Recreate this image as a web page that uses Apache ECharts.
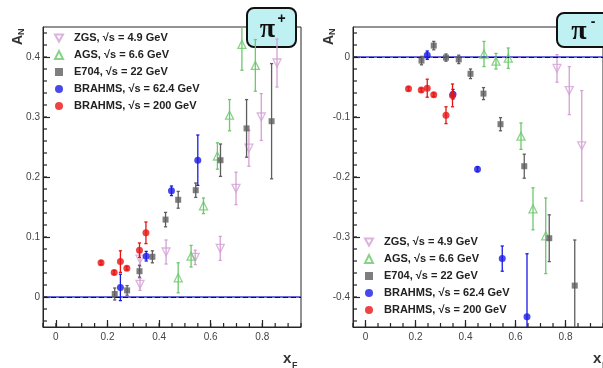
<!DOCTYPE html>
<html>
<head>
<meta charset="utf-8">
<script src="https://cdn.jsdelivr.net/npm/echarts@6/dist/echarts.min.js"></script>
<style>
html, body { margin: 0; padding: 0; background: #fff; }
#chart { width: 603px; height: 368px; }
</style>
</head>
<body>
<div id="chart"></div>
<script>
// Transverse single-spin asymmetry A_N vs x_F for pi+ (left) and pi- (right)

const legendLabels = [
  'ZGS, √s = 4.9 GeV',
  'AGS, √s = 6.6 GeV',
  'E704, √s = 22 GeV',
  'BRAHMS, √s = 62.4 GeV',
  'BRAHMS, √s = 200 GeV'
];

// ---- pi+ ----
const zgsPlusX  = [0.326, 0.326, 0.427, 0.540, 0.637, 0.698, 0.748, 0.796, 0.857];
const zgsPlusY  = [0.021, 0.063, 0.075, 0.066, 0.081, 0.181, 0.248, 0.300, 0.390];
const zgsPlusE  = [0.010, 0.012, 0.020, 0.012, 0.020, 0.027, 0.030, 0.039, 0.040];

const agsPlusX  = [0.474, 0.524, 0.572, 0.626, 0.673, 0.721, 0.773];
const agsPlusY  = [0.032, 0.068, 0.152, 0.235, 0.303, 0.421, 0.386];
const agsPlusE  = [0.025, 0.018, 0.013, 0.022, 0.026, 0.043, 0.043];

const e704PlusX = [0.228, 0.276, 0.324, 0.374, 0.425, 0.474, 0.542, 0.638, 0.739, 0.836];
const e704PlusY = [0.005, 0.011, 0.043, 0.067, 0.129, 0.162, 0.178, 0.228, 0.281, 0.293];
const e704PlusE = [0.010, 0.008, 0.010, 0.010, 0.012, 0.014, 0.012, 0.027, 0.048, 0.096];

const b62PlusX  = [0.250, 0.350, 0.448, 0.550];
const b62PlusY  = [0.016, 0.068, 0.177, 0.228];
const b62PlusE  = [0.022, 0.008, 0.008, 0.042];

const b200PlusX = [0.175, 0.226, 0.250, 0.275, 0.324, 0.349];
const b200PlusY = [0.057, 0.041, 0.059, 0.048, 0.078, 0.107];
const b200PlusE = [0.003, 0.003, 0.018, 0.003, 0.012, 0.018];

// ---- pi- ----
const zgsMinusX  = [0.766, 0.815, 0.865];
const zgsMinusY  = [-0.019, -0.056, -0.148];
const zgsMinusE  = [0.023, 0.040, 0.092];

const agsMinusX  = [0.474, 0.522, 0.571, 0.622, 0.670, 0.721];
const agsMinusY  = [0.005, -0.007, -0.002, -0.132, -0.253, -0.298];
const agsMinusE  = [0.021, 0.013, 0.017, 0.022, 0.035, 0.063];

const e704MinusX = [0.224, 0.273, 0.322, 0.373, 0.420, 0.472, 0.540, 0.635, 0.735, 0.837];
const e704MinusY = [-0.006, 0.019, -0.001, -0.004, -0.028, -0.061, -0.112, -0.182, -0.302, -0.381];
const e704MinusE = [0.007, 0.007, 0.006, 0.007, 0.008, 0.010, 0.011, 0.020, 0.039, 0.076];

const b62MinusX  = [0.247, 0.350, 0.448, 0.547, 0.646];
const b62MinusY  = [0.003, -0.062, -0.187, -0.336, -0.433];
const b62MinusE  = [0.007, 0.008, 0.004, 0.021, 0.105];

const b200MinusX = [0.172, 0.223, 0.247, 0.273, 0.322, 0.348];
const b200MinusY = [-0.053, -0.055, -0.052, -0.063, -0.097, -0.064];
const b200MinusE = [0.003, 0.003, 0.015, 0.003, 0.014, 0.019];

// axis ranges and ticks
const xRange      = [-0.05, 0.95];
const yRangePlus  = [-0.05, 0.45];
const yRangeMinus = [-0.45, 0.05];
const xMajorTicks = [0, 0.2, 0.4, 0.6, 0.8];
const yMajorPlus  = [0, 0.1, 0.2, 0.3, 0.4];
const yMajorMinus = [0, -0.1, -0.2, -0.3, -0.4];

function steps(from, to, step) {
  const out = [];
  const n = Math.round((to - from) / step);
  for (let i = 0; i <= n; i++) out.push(Math.round((from + i * step) * 1000) / 1000);
  return out;
}
const xMinorTicks = steps(-0.05, 0.95, 0.05);
const yMinorPlus  = steps(-0.04, 0.44, 0.02);
const yMinorMinus = steps(-0.44, 0.04, 0.02);

// marker styles per experiment
const styles = [
  { color: '#d4a0d6', symbol: 'triangle', rotate: 180, size: 8, hollow: true,
    icon: 'path://M0,0 L10,0 L5,9 Z' },
  { color: '#6cc86c', symbol: 'triangle', rotate: 0,   size: 8, hollow: true },
  { color: '#5e5e5e', symbol: 'rect',     rotate: 0,   size: 6, hollow: false },
  { color: '#1a1ae6', symbol: 'circle',   rotate: 0,   size: 7, hollow: false },
  { color: '#e81414', symbol: 'circle',   rotate: 0,   size: 7, hollow: false }
];

const plusSets = [
  [zgsPlusX, zgsPlusY, zgsPlusE],
  [agsPlusX, agsPlusY, agsPlusE],
  [e704PlusX, e704PlusY, e704PlusE],
  [b62PlusX, b62PlusY, b62PlusE],
  [b200PlusX, b200PlusY, b200PlusE]
];
const minusSets = [
  [zgsMinusX, zgsMinusY, zgsMinusE],
  [agsMinusX, agsMinusY, agsMinusE],
  [e704MinusX, e704MinusY, e704MinusE],
  [b62MinusX, b62MinusY, b62MinusE],
  [b200MinusX, b200MinusY, b200MinusE]
];

const FONT = '"Liberation Sans", Arial, Helvetica, sans-serif';
const FRAME = '#262626';

function errorBarRenderer(color) {
  return function (params, api) {
    const x = api.value(0), y = api.value(1), e = api.value(2);
    const top = api.coord([x, y + e]);
    const bot = api.coord([x, y - e]);
    const cap = 1.6;
    const st = { stroke: color, lineWidth: 1.3 };
    return {
      type: 'group',
      children: [
        { type: 'line', shape: { x1: top[0], y1: top[1], x2: bot[0], y2: bot[1] }, style: st },
        { type: 'line', shape: { x1: top[0] - cap, y1: top[1], x2: top[0] + cap, y2: top[1] }, style: st },
        { type: 'line', shape: { x1: bot[0] - cap, y1: bot[1], x2: bot[0] + cap, y2: bot[1] }, style: st }
      ]
    };
  };
}

// short inward minor tick marks along the bottom (x) or left (y) frame edge
function minorTickSeries(panel, values, dir, yRange) {
  const data = dir === 'x'
    ? values.map(function (v) { return [v, yRange[0]]; })
    : values.map(function (v) { return [xRange[0], v]; });
  return {
    type: 'custom', name: 'ticks' + dir + panel, xAxisIndex: panel, yAxisIndex: panel,
    data: data, encode: { x: 0, y: 1 }, clip: false, silent: true, z: 20,
    renderItem: function (params, api) {
      const p = api.coord([api.value(0), api.value(1)]);
      const len = 4;
      const shape = dir === 'x'
        ? { x1: p[0], y1: p[1], x2: p[0], y2: p[1] - len }
        : { x1: p[0], y1: p[1], x2: p[0] + len, y2: p[1] };
      return { type: 'line', shape: shape, style: { stroke: FRAME, lineWidth: 1.2 } };
    }
  };
}

function panelSeries(panel, sets, yRange, yMinor) {
  const out = [];
  // zero reference line: blue solid under black dashes
  out.push({
    type: 'line', name: 'zero' + panel, xAxisIndex: panel, yAxisIndex: panel,
    data: [], silent: true, z: 1,
    markLine: {
      silent: true, symbol: 'none', label: { show: false }, animation: false,
      data: [
        { yAxis: 0, lineStyle: { color: '#3a3ad0', width: 1.6, type: 'solid' } },
        { yAxis: 0, lineStyle: { color: '#111', width: 1, type: [5, 3] } }
      ]
    }
  });
  out.push(minorTickSeries(panel, xMinorTicks, 'x', yRange));
  out.push(minorTickSeries(panel, yMinor, 'y', yRange));
  sets.forEach(function (s, i) {
    const st = styles[i];
    const pts = s[0].map(function (x, k) { return [x, s[1][k], s[2][k]]; });
    out.push({
      type: 'custom', name: legendLabels[i] + ' err', xAxisIndex: panel, yAxisIndex: panel,
      data: pts, encode: { x: 0, y: 1 }, clip: true, silent: true, z: 2 + i * 2,
      renderItem: errorBarRenderer(st.color)
    });
    out.push({
      type: 'scatter', name: legendLabels[i], xAxisIndex: panel, yAxisIndex: panel,
      data: pts.map(function (p) { return [p[0], p[1]]; }),
      symbol: st.symbol, symbolRotate: st.rotate, symbolSize: st.size, clip: true,
      z: 3 + i * 2, silent: true,
      itemStyle: st.hollow
        ? { color: 'rgba(255,255,255,0)', borderColor: st.color, borderWidth: 1.3 }
        : { color: st.color }
    });
  });
  return out;
}

function fmt(v) {
  if (Math.abs(v) < 1e-9) return '0';
  return v.toFixed(1);
}

function xAxisFor(grid) {
  return {
    type: 'value', gridIndex: grid, min: xRange[0], max: xRange[1], position: 'bottom',
    axisLine: { show: true, onZero: false, lineStyle: { color: FRAME, width: 1 } },
    axisTick: { show: true, inside: true, length: 7, customValues: xMajorTicks, lineStyle: { color: FRAME, width: 1.2 } },
    axisLabel: { show: true, customValues: xMajorTicks, formatter: fmt, margin: 5,
                 fontSize: 10, color: '#444', fontFamily: FONT },
    splitLine: { show: false }
  };
}

function yAxisFor(grid, range, major) {
  return {
    type: 'value', gridIndex: grid, min: range[0], max: range[1], position: 'left',
    axisLine: { show: true, onZero: false, lineStyle: { color: FRAME, width: 1 } },
    axisTick: { show: true, inside: true, length: 7, customValues: major, lineStyle: { color: FRAME, width: 1.2 } },
    axisLabel: { show: true, customValues: major, formatter: fmt, margin: 3,
                 fontSize: 10, color: '#444', fontFamily: FONT },
    splitLine: { show: false }
  };
}

function legendAt(left, top) {
  return {
    data: legendLabels.map(function (name, i) {
      return styles[i].icon ? { name: name, icon: styles[i].icon } : { name: name };
    }),
    left: left, top: top, orient: 'vertical', padding: 0,
    itemWidth: 8, itemHeight: 8, itemGap: 5, selectedMode: false,
    textStyle: { fontSize: 11, fontWeight: 'bold', color: '#222', fontFamily: FONT, lineHeight: 12,
                 padding: [0, 0, 0, 6] }
  };
}

function axisTitleA(x, y) {
  return {
    type: 'group', x: x, y: y, rotation: Math.PI / 2, silent: true,
    children: [
      { type: 'text', x: 0, y: 0, style: { text: 'A', fontSize: 14, fontWeight: 'bold', fill: '#333',
        fontFamily: FONT, textAlign: 'left', textVerticalAlign: 'middle' } },
      { type: 'text', x: 10, y: 4, style: { text: 'N', fontSize: 9, fontWeight: 'bold', fill: '#333',
        fontFamily: FONT, textAlign: 'left', textVerticalAlign: 'middle' } }
    ]
  };
}

function axisTitleX(x, y) {
  return {
    type: 'group', x: x, y: y, silent: true,
    children: [
      { type: 'text', x: 0, y: 0, style: { text: 'x', fontSize: 15, fontWeight: 'bold', fill: '#333',
        fontFamily: FONT, textAlign: 'left', textVerticalAlign: 'bottom' } },
      { type: 'text', x: 9, y: 4, style: { text: 'F', fontSize: 9, fontWeight: 'bold', fill: '#333',
        fontFamily: FONT, textAlign: 'left', textVerticalAlign: 'bottom' } }
    ]
  };
}

function pionBox(x, y, w, h, sign) {
  return {
    type: 'group', x: x, y: y, silent: true, z: 100,
    children: [
      { type: 'rect', shape: { x: 0, y: 0, width: w, height: h, r: 7 },
        style: { fill: '#bff0f2', stroke: '#111', lineWidth: 2 } },
      { type: 'text', x: w / 2 - 4, y: h / 2 + 2, style: { text: 'π', fontSize: 28, fontWeight: 'bold', fill: '#111',
        fontFamily: '"Liberation Serif", "DejaVu Serif", serif', textAlign: 'center', textVerticalAlign: 'middle' } },
      { type: 'text', x: w / 2 + 10, y: h / 2 - 8, style: { text: sign, fontSize: 14, fontWeight: 'bold', fill: '#111',
        fontFamily: FONT, textAlign: 'center', textVerticalAlign: 'middle' } }
    ]
  };
}

const chart = echarts.init(document.getElementById('chart'), null, { renderer: 'canvas' });

chart.setOption({
  animation: false,
  backgroundColor: '#fff',
  grid: [
    { left: 43, top: 27, width: 258, height: 300, show: true, borderColor: FRAME, borderWidth: 1, backgroundColor: 'transparent' },
    { left: 353, top: 27, width: 258, height: 300, show: true, borderColor: FRAME, borderWidth: 1, backgroundColor: 'transparent' }
  ],
  xAxis: [xAxisFor(0), xAxisFor(1)],
  yAxis: [yAxisFor(0, yRangePlus, yMajorPlus), yAxisFor(1, yRangeMinus, yMajorMinus)],
  legend: [legendAt(54, 32), legendAt(364, 236)],
  series: panelSeries(0, plusSets, yRangePlus, yMinorPlus).concat(panelSeries(1, minusSets, yRangeMinus, yMinorMinus)),
  graphic: [
    axisTitleA(18, 45),
    axisTitleA(329, 45),
    axisTitleX(283, 366),
    axisTitleX(593, 366),
    pionBox(247, 8, 49, 39, '+'),
    pionBox(557, 13, 52, 34, '-')
  ]
});
</script>
</body>
</html>
